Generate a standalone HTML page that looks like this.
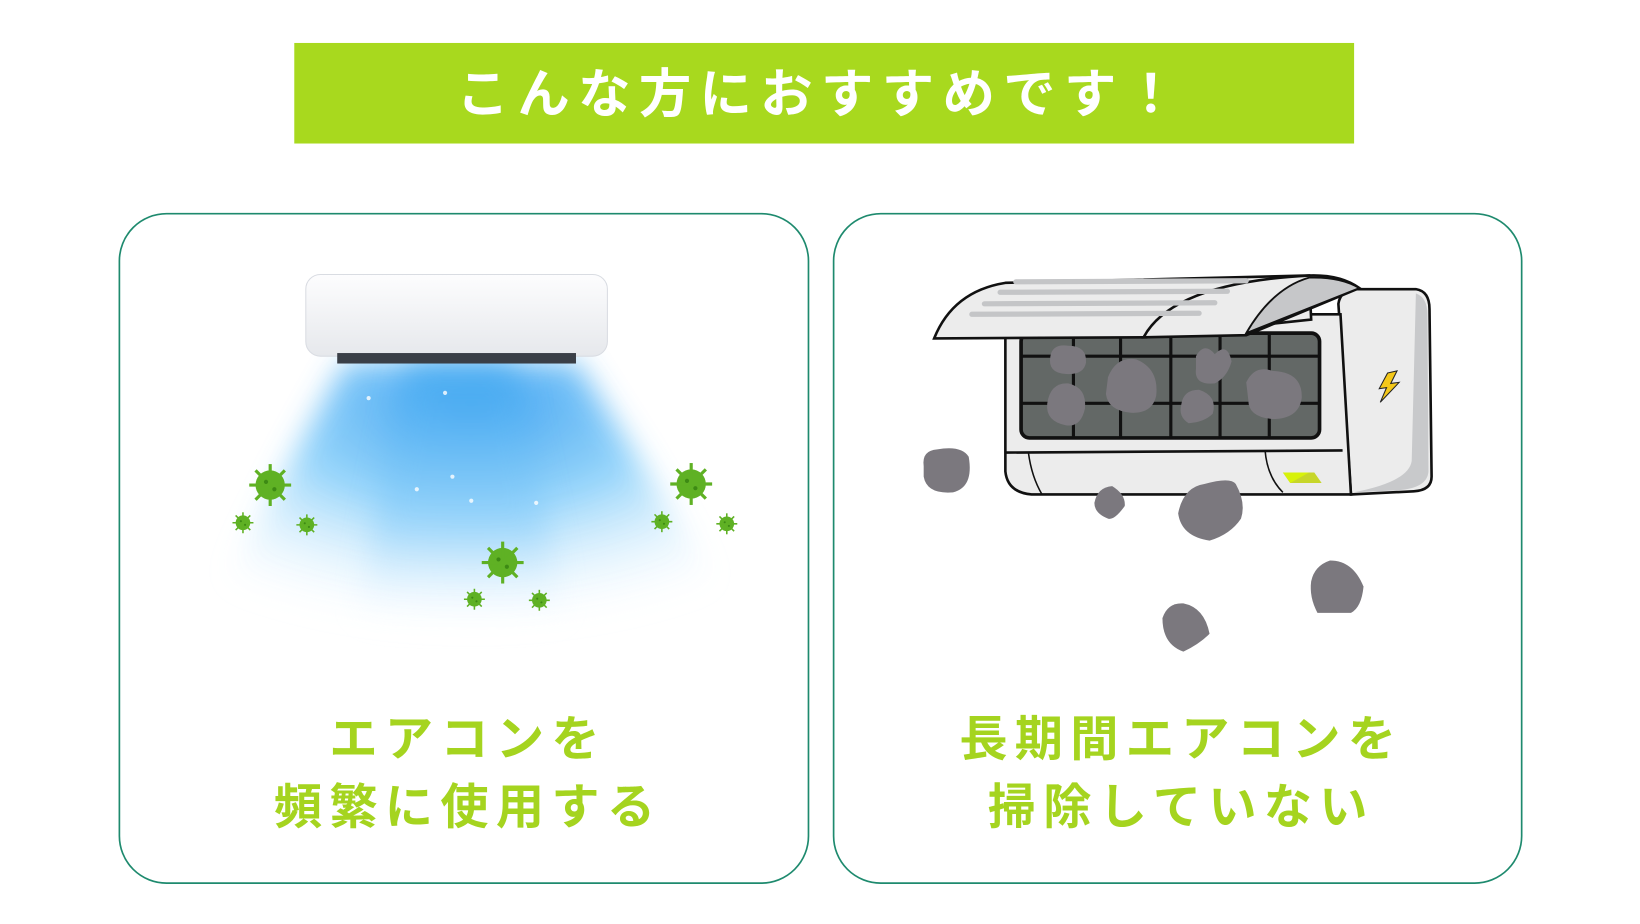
<!DOCTYPE html>
<html><head><meta charset="utf-8"><style>
html,body{margin:0;padding:0;background:#fff;}
svg{display:block}
text{font-family:"Liberation Sans","Noto Sans CJK JP",sans-serif;font-weight:bold}
</style></head><body>
<svg width="1640" height="924" viewBox="0 0 1566 882" preserveAspectRatio="none" xmlns="http://www.w3.org/2000/svg">
<defs>
<linearGradient id="air" x1="0" y1="0" x2="0" y2="1">
<stop offset="0" stop-color="#3aa6f0"/><stop offset="0.6" stop-color="#8fd0fa"/><stop offset="1" stop-color="#ffffff" stop-opacity="0"/>
</linearGradient>
<radialGradient id="air2" cx="0.5" cy="0.15" r="0.8">
<stop offset="0" stop-color="#2f9af0"/><stop offset="0.45" stop-color="#8ad0fa"/><stop offset="1" stop-color="#eef8fe" stop-opacity="0"/>
</radialGradient>
<filter id="bl"><feGaussianBlur stdDeviation="14"/></filter>
<linearGradient id="unit" x1="0" y1="0" x2="0" y2="1"><stop offset="0" stop-color="#fdfdfe"/><stop offset="1" stop-color="#e6e8ec"/></linearGradient>
<g id="vir"><circle r="14" fill="#5fb124"/><g stroke="#5fb124" stroke-width="3"><line x1="0" y1="-20" x2="0" y2="20"/><line x1="-20" y1="0" x2="20" y2="0"/><line x1="-14" y1="-14" x2="14" y2="14"/><line x1="-14" y1="14" x2="14" y2="-14"/></g><circle cx="-4" cy="-3" r="2" fill="#3d8a14"/><circle cx="4" cy="4" r="2" fill="#3d8a14"/></g>
</defs>
<rect x="281" y="41" width="1012" height="96" fill="#a8d91e"/>
<text x="784" y="107" font-size="50" fill="#fff" text-anchor="middle" letter-spacing="8">こんな方におすすめです！</text>

<rect x="114" y="204" width="658" height="639" rx="45" fill="#fff" stroke="#1e8a6e" stroke-width="1.6"/>
<rect x="796" y="204" width="657" height="639" rx="45" fill="#fff" stroke="#1e8a6e" stroke-width="1.6"/>

<!-- left AC -->
<path d="M330 345 L550 345 L700 580 Q440 650 200 580 Z" fill="url(#air2)" filter="url(#bl)" opacity="0.9"/>
<path d="M390 345 L490 345 L540 590 Q440 615 340 590 Z" fill="url(#air)" filter="url(#bl)" opacity="0.6"/>
<rect x="292" y="262" width="288" height="78" rx="14" fill="url(#unit)" stroke="#d9dce2"/>
<rect x="322" y="337" width="228" height="10" fill="#3a3f47"/>
<g fill="#fff" opacity="0.8"><circle cx="352" cy="380" r="2"/><circle cx="425" cy="375" r="2"/><circle cx="432" cy="455" r="2"/><circle cx="398" cy="467" r="2"/><circle cx="450" cy="478" r="2"/><circle cx="512" cy="480" r="2"/></g>
<use href="#vir" x="258" y="463"/><use href="#vir" transform="translate(232 499) scale(0.5)"/><use href="#vir" transform="translate(293 501) scale(0.5)"/>
<use href="#vir" x="660" y="462"/><use href="#vir" transform="translate(632 498) scale(0.5)"/><use href="#vir" transform="translate(694 500) scale(0.5)"/>
<use href="#vir" x="480" y="537"/><use href="#vir" transform="translate(453 572) scale(0.5)"/><use href="#vir" transform="translate(515 573) scale(0.5)"/>

<!-- right AC -->
<g stroke="#111" stroke-width="2.5">
<path d="M1278 290 Q1280 276 1296 276 L1352 276 Q1365 278 1365 295 L1367 455 Q1367 468 1350 469 L1290 472 Z" fill="#ececec"/>
<path d="M1352 280 Q1363 284 1363 300 L1364 450 Q1363 466 1335 468 L1292 470 Q1345 460 1348 440 Z" fill="#c8c9cb" stroke="none"/>
<path d="M960 300 L1280 300 L1290 472 L985 472 Q962 470 960 450 Z" fill="#ececec"/>
<line x1="960" y1="432" x2="1282" y2="430"/>
<path d="M982 432 Q985 455 995 472" fill="none" stroke-width="1.5"/>
<path d="M1208 430 Q1210 455 1225 470" fill="none" stroke-width="1.5"/>
<rect x="975" y="318" width="285" height="100" rx="8" fill="#636866" stroke-width="3.5"/>
<g stroke-width="3"><line x1="975" y1="340" x2="1260" y2="340"/><line x1="975" y1="385" x2="1260" y2="385"/><line x1="1025" y1="318" x2="1025" y2="418"/><line x1="1070" y1="318" x2="1070" y2="418"/><line x1="1118" y1="318" x2="1118" y2="418"/><line x1="1165" y1="318" x2="1165" y2="418"/><line x1="1212" y1="318" x2="1212" y2="418"/></g>
<path d="M892 323 Q910 278 960 270 L1250 263 L1252 305 L1095 322 Z" fill="#ececec"/>
<path d="M1250 263 Q1280 262 1298 275 L1190 320 L1092 322 Q1120 270 1250 263 Z" fill="#ececec"/>
<path d="M1250 265 Q1280 264 1298 275 L1190 318 Q1215 275 1250 265 Z" fill="#c6c7c9" stroke-width="1.8"/>
</g>
<g stroke="#c4c5c7" stroke-width="5" stroke-linecap="round"><line x1="970" y1="269" x2="1190" y2="268"/><line x1="955" y1="279" x2="1172" y2="278"/><line x1="940" y1="290" x2="1160" y2="289"/><line x1="928" y1="300" x2="1145" y2="299"/></g>
<path d="M1225 451 L1255 451 L1262 461 L1232 461 Z" fill="#c7d62a"/>
<path d="M1225 451 L1250 451 L1232 461 Z" fill="#d7f20a"/>
<path d="M1325 356 L1334 354 L1328 366 L1336 365 L1318 384 L1324 370 L1317 371 Z" fill="#f4c81a" stroke="#222" stroke-width="1"/>
<g fill="#7b787e">
<path d="M1003 340 Q1005 328 1020 330 Q1038 330 1037 346 Q1035 358 1018 357 Q1000 356 1003 340Z"/>
<path d="M1000 385 Q1003 365 1020 366 Q1038 370 1036 390 Q1032 408 1018 406 Q998 402 1000 385Z"/>
<path d="M1058 360 Q1066 340 1085 343 Q1107 352 1104 378 Q1100 395 1080 394 Q1058 392 1056 376Z"/>
<path d="M1142 340 Q1150 326 1160 338 Q1172 326 1176 345 Q1172 360 1160 366 Q1140 368 1142 352Z"/>
<path d="M1128 386 Q1130 372 1145 372 Q1163 378 1158 395 Q1150 403 1135 404 Q1125 398 1128 386Z"/>
<path d="M1190 365 Q1198 348 1215 354 Q1244 355 1243 380 Q1240 400 1215 400 Q1192 398 1192 382Z"/>
<path d="M882 445 Q880 430 895 429 Q918 425 925 436 Q930 465 910 470 Q885 472 882 455Z"/>
<path d="M1045 480 Q1048 465 1062 464 Q1075 472 1074 483 Q1064 497 1058 495 Q1045 490 1045 480Z"/>
<path d="M1125 490 Q1130 465 1150 462 Q1175 455 1180 462 Q1190 480 1185 495 Q1175 510 1155 516 Q1128 512 1125 490Z"/>
<path d="M1252 555 Q1255 540 1270 535 Q1292 535 1302 560 Q1300 580 1290 585 L1258 585 Q1250 570 1252 555Z"/>
<path d="M1110 590 Q1115 575 1130 576 Q1150 580 1155 605 Q1145 615 1130 622 Q1110 615 1110 590Z"/>
</g>

<g font-size="46" fill="#a5d41f" text-anchor="middle" letter-spacing="7">
<text x="447" y="721">エアコンを</text>
<text x="447" y="786">頻繁に使用する</text>
<text x="1128" y="721">長期間エアコンを</text>
<text x="1128" y="786">掃除していない</text>
</g>
</svg>
</body></html>
